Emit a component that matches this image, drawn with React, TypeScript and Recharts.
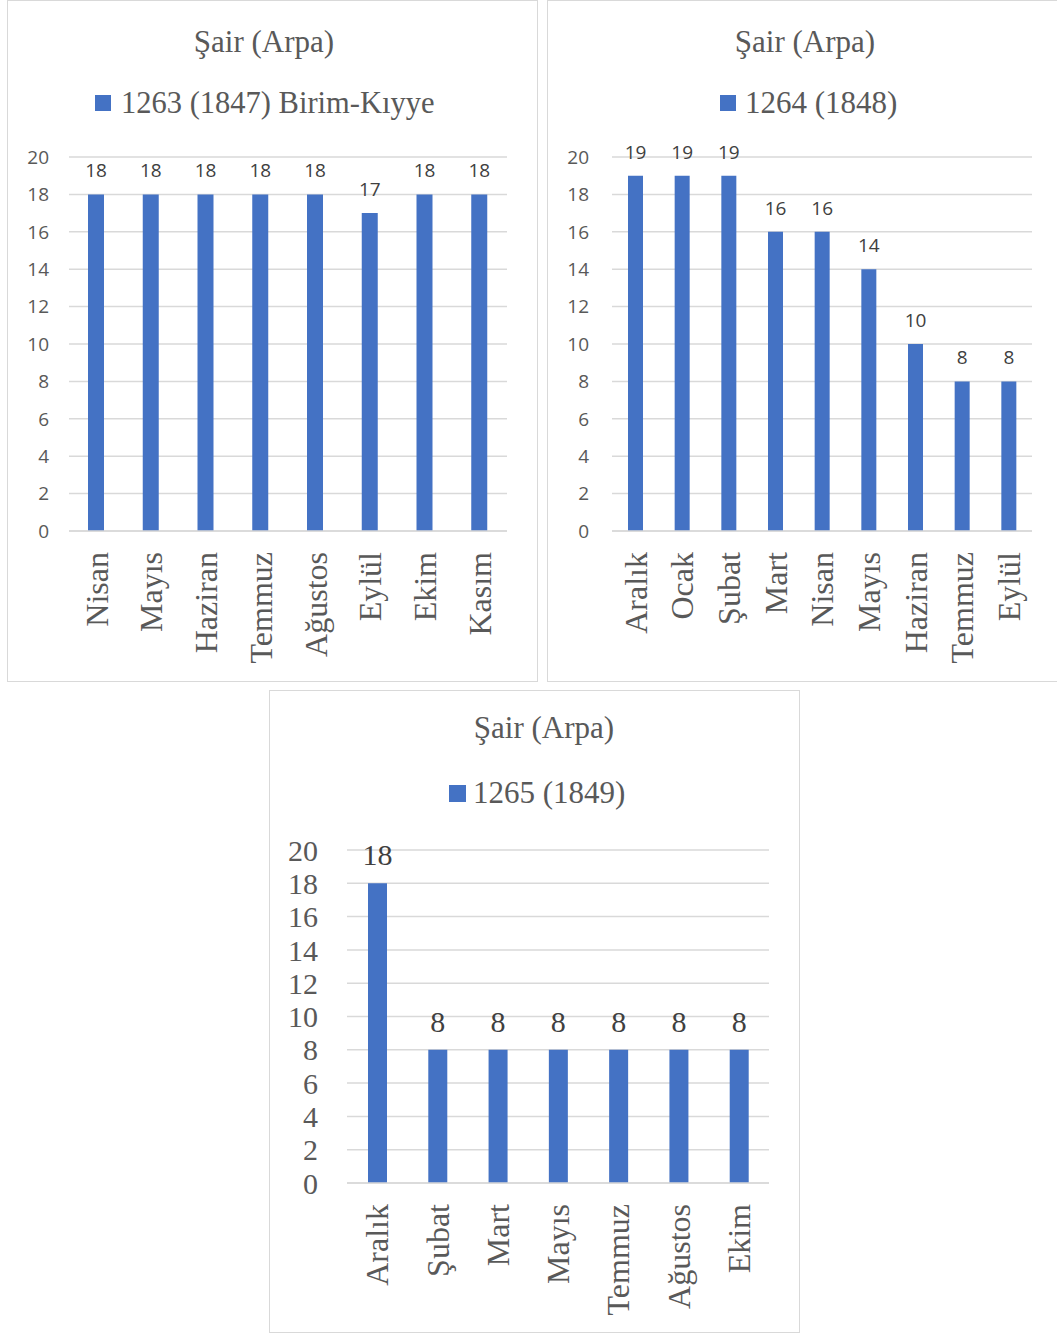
import { BarChart, Bar, XAxis, YAxis, CartesianGrid, LabelList } from "recharts";

const months1263 = ["Nisan", "Mayıs", "Haziran", "Temmuz", "Ağustos", "Eylül", "Ekim", "Kasım"];
const values1263 = [18, 18, 18, 18, 18, 17, 18, 18];

const months1264 = ["Aralık", "Ocak", "Şubat", "Mart", "Nisan", "Mayıs", "Haziran", "Temmuz", "Eylül"];
const values1264 = [19, 19, 19, 16, 16, 14, 10, 8, 8];

const months1265 = ["Aralık", "Şubat", "Mart", "Mayıs", "Temmuz", "Ağustos", "Ekim"];
const values1265 = [18, 8, 8, 8, 8, 8, 8];

const yTicks = [0, 2, 4, 6, 8, 10, 12, 14, 16, 18, 20];

const BLUE = "#4472C4";
const GRID = "#d9d9d9";
const TEXT = "#595959";
const SERIF = "'Liberation Serif', 'Times New Roman', serif";
const SANS = "'Open Sans', 'Noto Sans', sans-serif";

const RotTick = (props: any) => {
  const { x, y, payload } = props;
  return (
    <text
      x={x}
      y={y}
      transform={`rotate(-90 ${x} ${y})`}
      textAnchor="end"
      dy="0.35em"
      fill={TEXT}
      fontFamily={SERIF}
      fontSize={32}
    >
      {payload.value}
    </text>
  );
};

interface PanelProps {
  months: string[];
  values: number[];
  left: number;
  top: number;
  width: number;
  height: number;
  marginTop: number;
  axisWidth: number;
  xAxisHeight: number;
  yTickMargin: number;
  xTickMargin: number;
  barSize: number;
  numFont: string;
  numSize: number;
  labelOffset: number;
}

const Panel = (p: PanelProps) => {
  const data = p.months.map((m, i) => ({ m, v: p.values[i] }));
  return (
    <div style={{ position: "absolute", left: p.left, top: p.top }}>
      <BarChart
        width={p.width}
        height={p.height}
        data={data}
        margin={{ top: p.marginTop, right: 30, left: 0, bottom: 0 }}
        barCategoryGap={0}
      >
        <CartesianGrid vertical={false} stroke={GRID} strokeWidth={1.5} />
        <XAxis
          dataKey="m"
          interval={0}
          height={p.xAxisHeight}
          tickSize={0}
          tickMargin={p.xTickMargin}
          axisLine={{ stroke: GRID, strokeWidth: 1.5 }}
          tickLine={false}
          tick={(t: any) => <RotTick {...t} />}
        />
        <YAxis
          domain={[0, 20]}
          ticks={yTicks}
          interval={0}
          width={p.axisWidth}
          tickSize={0}
          tickMargin={p.yTickMargin}
          axisLine={false}
          tickLine={false}
          tick={{ fill: TEXT, fontFamily: p.numFont, fontSize: p.numSize }}
        />
        <Bar dataKey="v" fill={BLUE} barSize={p.barSize} isAnimationActive={false}>
          <LabelList
            dataKey="v"
            position="top"
            offset={p.labelOffset}
            fill="#404040"
            fontFamily={p.numFont}
            fontSize={p.numSize}
          />
        </Bar>
      </BarChart>
    </div>
  );
};

const boxStyle = (left: number, top: number, width: number, height: number) => ({
  position: "absolute" as const,
  left,
  top,
  width,
  height,
  border: "1.5px solid #d9d9d9",
  boxSizing: "border-box" as const,
  background: "#fff",
});

export default function App() {
  return (
    <div
      style={{
        position: "absolute",
        left: 0,
        top: 0,
        width: 1057,
        height: 1333,
        overflow: "hidden",
        background: "#fff",
      }}
    >
      <div style={boxStyle(7, 0, 531, 682)} />
      <div style={boxStyle(547, 0, 520, 682)} />
      <div style={boxStyle(269, 690, 531, 643)} />

      <Panel
        months={months1263}
        values={values1263}
        left={7}
        top={1}
        width={530}
        height={680}
        marginTop={156}
        axisWidth={62}
        xAxisHeight={150}
        yTickMargin={20}
        xTickMargin={21}
        barSize={16}
        numFont={SANS}
        numSize={19}
        labelOffset={17}
      />
      <Panel
        months={months1264}
        values={values1264}
        left={547}
        top={1}
        width={515}
        height={680}
        marginTop={156}
        axisWidth={65}
        xAxisHeight={150}
        yTickMargin={23}
        xTickMargin={21}
        barSize={15}
        numFont={SANS}
        numSize={19}
        labelOffset={17}
      />
      <Panel
        months={months1265}
        values={values1265}
        left={269}
        top={690}
        width={530}
        height={642}
        marginTop={160}
        axisWidth={78}
        xAxisHeight={149}
        yTickMargin={29}
        xTickMargin={21}
        barSize={19}
        numFont={SERIF}
        numSize={30}
        labelOffset={18}
      />

      <svg
        width={1057}
        height={1333}
        style={{ position: "absolute", left: 0, top: 0, pointerEvents: "none" }}
      >
        <g fill={TEXT} fontFamily={SERIF}>
          <text x={264} y={52} textAnchor="middle" fontSize={31}>Şair (Arpa)</text>
          <rect x={95} y={95} width={16} height={16} fill={BLUE} />
          <text x={121} y={113} fontSize={30.5}>1263 (1847) Birim-Kıyye</text>

          <text x={805} y={52} textAnchor="middle" fontSize={31}>Şair (Arpa)</text>
          <rect x={720} y={95} width={16} height={16} fill={BLUE} />
          <text x={745} y={113} fontSize={31}>1264 (1848)</text>

          <text x={544} y={738} textAnchor="middle" fontSize={31}>Şair (Arpa)</text>
          <rect x={449} y={785} width={17} height={17} fill={BLUE} />
          <text x={473} y={803} fontSize={31}>1265 (1849)</text>
        </g>
      </svg>
    </div>
  );
}
